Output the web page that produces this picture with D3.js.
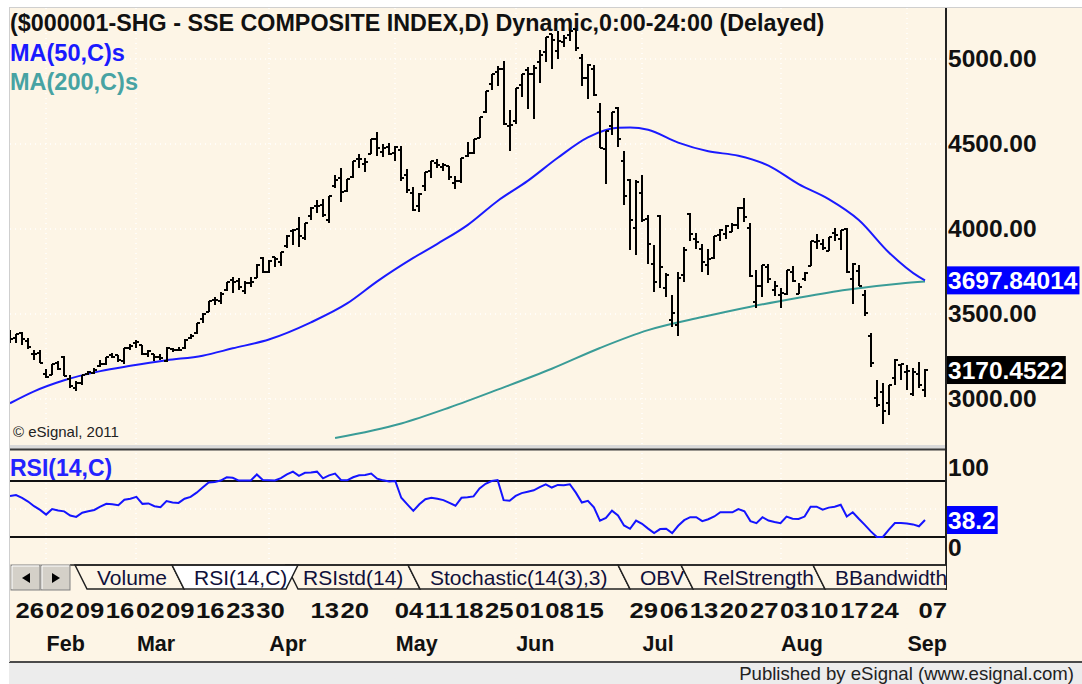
<!DOCTYPE html>
<html lang="en">
<head>
<meta charset="utf-8">
<title>SSE Composite</title>
<script src="https://d3js.org/d3.v7.min.js"></script>
<style>
  body { margin: 0; background: #fff; }
  text { font-family: "Liberation Sans", Arial, sans-serif; }
</style>
</head>
<body>
<div id="chart"></div>
<script>
// daily bars, Jan 23 2015 .. Sep 8 2015 (one row per trading week)
var opens = [3357,
  3357,3390,3340,3265,3273,  3148,3143,3210,3250,3120,  3063,3092,3146,3155,3193,  3206,3258,3256,3222,3298,
  3332,3317,3264,3264,3249,  3225,3297,3287,3298,3360,  3391,3470,3514,3582,3579,  3640,3701,3695,3633,3685,
  3710,3830,3748,3835,3803,  3900,3988,4001,3948,  4074,4135,4141,4053,4255,  4301,4224,4304,4414,4385,
  4441,4528,4453,4483,  4445,4467,4320,4209,4134,  4254,4342,4389,4362,4369,  4268,4285,4429,4446,4533,
  4687,4854,4923,4943,4603,  4633,4845,4933,4913,4982,  5044,5145,5050,5101,5144,  5174,5004,4890,4942,4689,
  4471,4604,4711,4399,  4289,4006,4214,4058,3793,  4078,3655,3467,3433,3732,  4090,3944,3882,3790,3830,
  3965,3970,3980,4025,4124,  4006,3573,3662,3778,3643,  3614,3620,3747,3615,3704,  3780,3926,3911,3869,3977,
  3939,4000,3705,3754,3609,  3373,3004,3042,2978,3125,  3201,3157,3028,  3149,3055];
var highs = [3406,
  3384,3395,3357,3290,3288,  3174,3207,3224,3251,3144,  3106,3142,3166,3182,3230,  3247,3268,3258,3300,3324,
  3346,3317,3286,3266,3263,  3306,3301,3303,3353,3382,  3449,3504,3577,3600,3632,  3688,3716,3712,3697,3715,
  3795,3835,3817,3835,3865,  3962,4000,4069,4034,  4129,4168,4175,4195,4317,  4356,4294,4398,4444,4418,
  4529,4572,4499,4507,  4488,4488,4352,4250,4212,  4333,4401,4410,4391,4370,  4313,4417,4512,4530,4657,
  4814,4911,4958,4986,4698,  4829,4911,4951,4967,5052,  5131,5147,5164,5139,5178,  5176,5029,4970,4966,4744,
  4577,4691,4720,4456,  4297,4287,4317,4081,3908,  4085,3744,3611,3749,3892,  4093,3976,3914,3885,3957,
  4000,4022,4035,4132,4185,  4035,3758,3789,3793,3696,  3655,3757,3782,3682,3745,  3929,3971,3942,3955,4007,
  3994,4006,3800,3788,3641,  3388,3114,3092,3085,3233,  3207,3201,3183,  3218,3174];
var lows = [3328,
  3327,3318,3294,3231,3210,  3122,3141,3171,3135,3063,  3049,3084,3140,3145,3187,  3202,3240,3218,3207,3291,
  3298,3260,3250,3222,3231,  3219,3276,3280,3296,3350,  3383,3447,3514,3551,3559,  3634,3626,3643,3618,3661,
  3710,3742,3742,3777,3781,  3891,3904,3892,3938,  4055,4095,4069,4038,4240,  4159,4215,4302,4358,4337,
  4441,4430,4424,4435,  4399,4282,4214,4108,4099,  4226,4302,4359,4340,4288,  4233,4272,4424,4441,4533,
  4685,4818,4843,4614,4459,  4615,4775,4706,4648,4857,  4984,4943,5002,5070,5103,  5048,4842,4767,4780,4476,
  4265,4552,4483,4139,  3875,3847,4043,3795,3629,  3653,3601,3422,3373,3691,  3930,3885,3749,3730,3826,
  3927,3943,3980,3999,4044,  3720,3537,3600,3684,3607,  3537,3612,3688,3615,3696,  3780,3885,3877,3869,3927,
  3879,3743,3558,3663,3490,  3191,2952,2851,2906,3084,  3109,3053,3020,  3067,3011];
var closes = [3351,
  3383,3352,3305,3262,3210,  3128,3204,3174,3136,3076,  3095,3141,3157,3173,3203,  3247,3246,3228,3298,3310,
  3336,3263,3280,3248,3241,  3302,3286,3290,3349,3372,  3449,3502,3577,3582,3617,  3687,3691,3661,3682,3691,
  3786,3747,3810,3825,3863,  3961,3994,3957,4034,  4121,4135,4084,4194,4287,  4217,4293,4398,4414,4393,
  4527,4476,4476,4441,  4480,4298,4229,4112,4205,  4333,4401,4375,4378,4308,  4283,4417,4446,4529,4657,
  4813,4910,4941,4620,4611,  4828,4910,4909,4947,5023,  5131,5113,5106,5121,5166,  5062,4887,4967,4786,4478,
  4576,4690,4527,4193,  4053,4277,4053,3912,3687,  3776,3728,3507,3709,3878,  3970,3924,3805,3823,3957,
  3992,4017,4026,4124,4070,  3725,3663,3789,3705,3664,  3622,3757,3695,3661,3744,  3928,3928,3886,3955,3965,
  3993,3748,3794,3664,3507,  3209,2965,2927,3084,3232,  3206,3166,3160,  3080,3170.4522];

// RSI(14) per bar, same order
var rsi = [64,
  65,62,58,53,49,  44,50,48.5,47.5,43,  41.5,46,47.5,49,52.5,  55.5,55,54,60,61,
  63,55.5,56,53,52,  58.5,57,56.5,61,63,  67.5,73,78.5,79,80.5,  84,83.5,80.5,80.5,80.5,
  87,81,80.8,80.6,83,  87,90,85.5,88.8,  89,90,82.8,86,88,  81,80.7,84,86.2,86.5,
  88,82.5,80.7,79.5,  80,62,55,48,55,  60.5,62,61,59.5,56.5,  53.5,62,62.5,63.5,72,
  77,80,81,59.5,58.8,  64,67,68.5,70,73.5,  76.5,73,75.8,75.5,76.5,  67.5,57,58.8,51.8,37.6,
  40.5,48.2,43,32.4,  28.8,37.6,34.1,29,24.2,  28.5,28.8,24.2,32,38,  41.2,41.2,37,39,42,
  46.5,46.5,46.5,50,47.5,  37,34.8,41.2,37.6,36,  34.8,41.9,39.5,39.4,41.9,  52.5,52.5,49.3,51.5,52.5,
  54.6,41.9,46.5,39.5,33,  26,20,20,28,35,  35,34.5,33.5,  31.5,38.2];

// moving averages: [bar index, value]
var ma50 = [[0,2975],[4,3045],[9,3110],[15,3164],[20,3195],[26,3228],[32,3255],[37,3298],[43,3350],
  [50,3451],[56,3562],[61,3692],[67,3830],[71,3913],[76,4023],[81,4165],[86,4283],[91,4419],
  [96,4539],[101,4595],[103,4597],[106,4584],[111,4508],[116,4457],[121,4431],[126,4373],
  [131,4264],[136,4176],[141,4053],[146,3862],[151,3718],[152,3697.84]];
var ma200 = [[54,2770],[65,2856],[73,2950],[81,3055],[90,3178],[98,3300],[106,3405],[115,3482],
  [123,3543],[131,3596],[139,3643],[148,3680],[152,3691]];

var priceTicks = [3000, 3500, 4000, 4500, 5000];
var weekLabels = ["26","02","09","16","02","09","16","23","30","13","20","04","11","18","25","01","08","15",
  "29","06","13","20","27","03","10","17","24","07"];
var weekBars = [1,6,11,16,21,26,31,36,41,50,55,64,69,74,79,84,89,94,103,108,113,118,123,128,133,138,143,151];
var monthLabels = ["Feb","Mar","Apr","May","Jun","Jul","Aug","Sep"];
var monthBars = [6,21,43,64,84,105,128,149];
var tabNames = ["Volume","RSI(14,C)","RSIstd(14)","Stochastic(14(3),3)","OBV","RelStrength","BBandwidth"];
var lastMa50 = "3697.84014", lastClose = "3170.4522", lastRsi = 38.2;

var width = 1082, height = 684;
var bg = "#fdf5e6", font = "'Liberation Sans', Arial, sans-serif";

var svg = d3.select("#chart").append("svg")
  .attr("width", width).attr("height", height);

// frame
svg.append("rect").attr("width", width).attr("height", height).attr("fill", "#fff");
svg.append("rect").attr("x", 9).attr("y", 7).attr("width", width - 9).attr("height", 655).attr("fill", bg);
svg.append("rect").attr("x", 9).attr("y", 663).attr("width", width - 9).attr("height", 21).attr("fill", "#ececec");
svg.append("line").attr("x1", 9).attr("x2", width).attr("y1", 662).attr("y2", 662)
  .attr("stroke", "#4a4a4a").attr("stroke-width", 2);
svg.append("line").attr("x1", 9).attr("x2", width).attr("y1", 7.5).attr("y2", 7.5).attr("stroke", "#cfcfcf");
svg.append("line").attr("x1", 9.5).attr("x2", 9.5).attr("y1", 7).attr("y2", 662).attr("stroke", "#cfcfcf");

// scales
var x = d3.scaleLinear().domain([0, closes.length - 1]).range([10, 925]);
var y = d3.scaleLinear().domain([3000, 5000]).range([399, 59]);
var yRsi = d3.scaleLinear().domain([20, 80]).range([537, 481]);
var rsiLabelY = d3.scaleLinear().domain([0, 100]).range([548, 468]); // labels are kept inside the pane

var defs = svg.append("defs");
defs.append("clipPath").attr("id", "clipPrice").append("rect")
  .attr("x", 10).attr("y", 8).attr("width", 936).attr("height", 437);
defs.append("clipPath").attr("id", "clipRsi").append("rect")
  .attr("x", 10).attr("y", 451).attr("width", 936).attr("height", 112);

// dotted grid
var grid = svg.append("g").attr("stroke", "#fff").attr("stroke-dasharray", "1,4").attr("stroke-width", 1.5);
grid.selectAll("line.h").data(priceTicks).enter().append("line")
  .attr("x1", 10).attr("x2", 946).attr("y1", function(d) { return y(d); }).attr("y2", function(d) { return y(d); });
grid.selectAll("line.v").data(monthBars).enter().append("line")
  .attr("x1", function(d) { return Math.round(x(d)); }).attr("x2", function(d) { return Math.round(x(d)); })
  .attr("y1", 8).attr("y2", 560);
grid.append("line").attr("x1", 10).attr("x2", 946).attr("y1", yRsi(50)).attr("y2", yRsi(50));

// header texts
svg.append("text").attr("x", 10).attr("y", 31)
  .attr("font-size", "23.3px").attr("font-weight", "bold").attr("fill", "#111")
  .text("($000001-SHG - SSE COMPOSITE INDEX,D) Dynamic,0:00-24:00 (Delayed)");
svg.append("text").attr("x", 10).attr("y", 61)
  .attr("font-size", "23.5px").attr("font-weight", "bold").attr("fill", "#1a1aff").text("MA(50,C)s");
svg.append("text").attr("x", 10).attr("y", 90)
  .attr("font-size", "23.5px").attr("font-weight", "bold").attr("fill", "#47a3a3").text("MA(200,C)s");
svg.append("text").attr("x", 13).attr("y", 437)
  .attr("font-size", "15px").attr("fill", "#222").text("\u00a9 eSignal, 2011");

// price pane
var price = svg.append("g").attr("clip-path", "url(#clipPrice)");
var maLine = d3.line()
  .x(function(d) { return x(d[0]); })
  .y(function(d) { return y(d[1]); })
  .curve(d3.curveMonotoneX);

price.append("path").datum(ma200).attr("d", maLine)
  .attr("fill", "none").attr("stroke", "#3a9c97").attr("stroke-width", 2);
price.append("path").datum(ma50).attr("d", maLine)
  .attr("fill", "none").attr("stroke", "#1a1aff").attr("stroke-width", 2);

price.append("g").selectAll("path")
  .data(d3.range(closes.length))
  .enter().append("path")
  .attr("d", function(i) {
    var cx = Math.round(x(i));
    return "M" + cx + "," + Math.round(y(highs[i])) + "V" + Math.round(y(lows[i])) +
      "M" + (cx - 3) + "," + Math.round(y(opens[i])) + "H" + cx +
      "M" + cx + "," + Math.round(y(closes[i])) + "H" + (cx + 3);
  })
  .attr("fill", "none").attr("stroke", "#000").attr("stroke-width", 2);

// price axis
var yAxis = d3.axisRight(y).tickValues(priceTicks).tickFormat(d3.format(".2f")).tickSize(0).tickPadding(2);
var ya = svg.append("g").attr("transform", "translate(946,0)").call(yAxis);
ya.select(".domain").remove();
ya.attr("font-family", font).attr("font-size", "24.5px").attr("font-weight", "bold").attr("color", "#111");

// last value boxes
function valueBox(yPos, label, fillColor) {
  var g = svg.append("g");
  var r = g.append("rect").attr("fill", fillColor);
  var t = g.append("text").attr("x", 948).attr("y", yPos).attr("dy", "0.35em")
    .attr("font-size", "24.5px").attr("font-weight", "bold").attr("fill", "#fff").text(label);
  var w = t.node().getComputedTextLength();
  r.attr("x", 947).attr("y", yPos - 14).attr("width", w + 3).attr("height", 28);
}
valueBox(y(+lastMa50), lastMa50, "#0000ff");
valueBox(y(+lastClose), lastClose, "#000");

// pane splitter
svg.append("rect").attr("x", 10).attr("y", 445).attr("width", 936).attr("height", 4).attr("fill", "#d9d9d9");
svg.append("line").attr("x1", 10).attr("x2", 946).attr("y1", 449.5).attr("y2", 449.5)
  .attr("stroke", "#3a3a3a").attr("stroke-width", 2);

// RSI pane
svg.append("text").attr("x", 10).attr("y", 476)
  .attr("font-size", "23px").attr("font-weight", "bold").attr("fill", "#2323ff").text("RSI(14,C)");
svg.selectAll("line.band").data([80, 20]).enter().append("line")
  .attr("x1", 10).attr("x2", 946)
  .attr("y1", function(d) { return yRsi(d); }).attr("y2", function(d) { return yRsi(d); })
  .attr("stroke", "#111").attr("stroke-width", 2);

svg.append("g").attr("clip-path", "url(#clipRsi)").append("path")
  .datum(rsi)
  .attr("d", d3.line().x(function(d, i) { return x(i); }).y(function(d) { return yRsi(d); }))
  .attr("fill", "none").attr("stroke", "#1414ff").attr("stroke-width", 2);

var rAxis = d3.axisRight(rsiLabelY).tickValues([0, 100]).tickFormat(d3.format("d")).tickSize(0).tickPadding(2);
var ra = svg.append("g").attr("transform", "translate(946,0)").call(rAxis);
ra.select(".domain").remove();
ra.attr("font-family", font).attr("font-size", "24.5px").attr("font-weight", "bold").attr("color", "#111");
valueBox(yRsi(lastRsi), String(lastRsi), "#0000ff");

// right axis line
svg.append("line").attr("x1", 946).attr("x2", 946).attr("y1", 8).attr("y2", 590)
  .attr("stroke", "#222").attr("stroke-width", 2);

// tab strip
var tabTop = 565, tabBot = 589, slant = 12;
var tabEdges = [75, 172, 286, 408, 618, 681, 813, 960];
defs.append("clipPath").attr("id", "clipTabs").append("rect")
  .attr("x", 70).attr("y", 560).attr("width", 876).attr("height", 35);
var tabs = svg.append("g").attr("clip-path", "url(#clipTabs)");
function tabShape(i, active) {
  var l = tabEdges[i], r = tabEdges[i + 1];
  if (active) {
    return [[l, tabTop], [l + slant, tabBot], [r, tabBot], [r + slant, tabTop]];
  }
  return [[l, tabTop], [l + slant, tabBot], [r + slant, tabBot], [r, tabTop]];
}
tabNames.forEach(function(name, i) {
  if (i === 1) return;
  tabs.append("polygon").attr("points", tabShape(i, false).join(" "))
    .attr("fill", bg).attr("stroke", "#222").attr("stroke-width", 1.5);
});
tabs.append("polygon").attr("points", tabShape(1, true).join(" "))
  .attr("fill", "#fff").attr("stroke", "#222").attr("stroke-width", 1.5);
tabs.append("line").attr("x1", 70).attr("x2", 946).attr("y1", tabTop).attr("y2", tabTop)
  .attr("stroke", "#222").attr("stroke-width", 1.5);
tabs.selectAll("text.tab").data(tabNames).enter().append("text")
  .attr("x", function(d, i) { return tabEdges[i] + (i === 2 ? 17 : 22); })
  .attr("y", 585)
  .attr("font-size", "21px").attr("fill", "#10103a")
  .text(function(d) { return d; });

// scroll buttons
[[11, "M30,573 L22,578 L30,583Z"], [41, "M52,573 L60,578 L52,583Z"]].forEach(function(b) {
  svg.append("rect").attr("x", b[0]).attr("y", 565).attr("width", 29).attr("height", 25)
    .attr("fill", "#d4d0c8").attr("stroke", "#808080");
  svg.append("path").attr("d", "M" + (b[0] + 1) + ",589V566H" + (b[0] + 28))
    .attr("fill", "none").attr("stroke", "#fff");
  svg.append("path").attr("d", b[1]).attr("fill", "#000");
});

// date axis (week numbers are drawn wide, as in the eSignal font)
var wAxis = d3.axisBottom(x).tickValues(weekBars).tickSize(0).tickPadding(0)
  .tickFormat(function(d, i) { return weekLabels[i]; });
var wa = svg.append("g").attr("transform", "translate(-1,603)").call(wAxis);
wa.select(".domain").remove();
wa.attr("font-family", font).attr("font-size", "21.5px").attr("font-weight", "bold").attr("color", "#111");
wa.selectAll("text").attr("text-anchor", "start").attr("dy", "0.72em")
  .attr("textLength", 28.5).attr("lengthAdjust", "spacingAndGlyphs");

var mAxis = d3.axisBottom(x).tickValues(monthBars).tickSize(0).tickPadding(0)
  .tickFormat(function(d, i) { return monthLabels[i]; });
var ma = svg.append("g").attr("transform", "translate(0,636)").call(mAxis);
ma.select(".domain").remove();
ma.attr("font-family", font).attr("font-size", "21.5px").attr("font-weight", "bold").attr("color", "#111");
ma.selectAll("text").attr("text-anchor", "start").attr("dy", "0.72em");

// footer
svg.append("text").attr("x", 1074).attr("y", 680).attr("text-anchor", "end")
  .attr("font-size", "18.6px").attr("fill", "#222")
  .text("Published by eSignal (www.esignal.com)");
</script>
</body>
</html>
